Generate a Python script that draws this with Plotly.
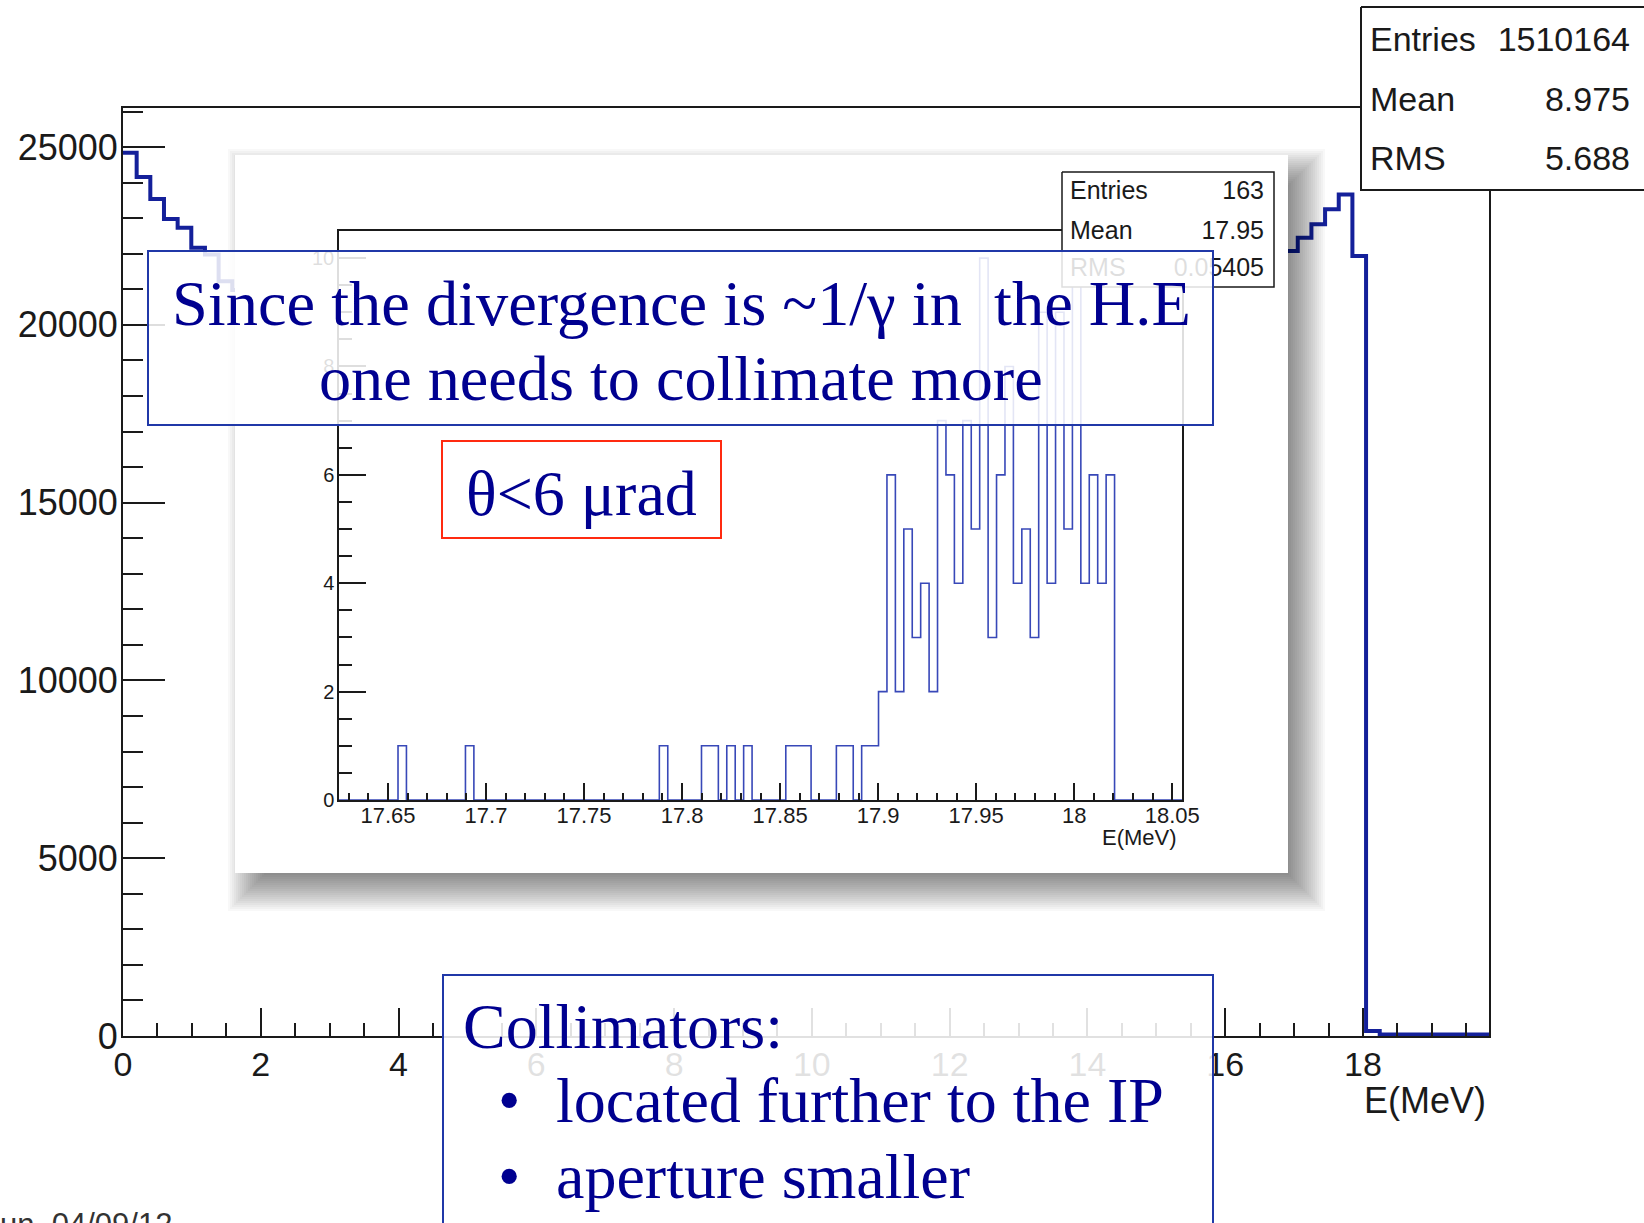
import numpy as np
import plotly.graph_objects as go

W, H = 1644, 1223

# ---------------------------------------------------------------- data
# Full photon spectrum: 100 bins over [0, 19.83] MeV
E_MAX = 19.83
N_BINS = 100
main_counts = [
    24840, 24160, 23540, 22980, 22730, 22170, 21980, 21230,
    20980, 20590, 20120, 19750, 19290, 18950, 18520, 18210, 17790, 17500,
    17120, 16850, 16490, 16240, 15900, 15680, 15370, 15160, 14880, 14700,
    14430, 14280, 14040, 13900, 13690, 13570, 13390, 13290, 13130, 13060,
    12920, 12870, 12760, 12730, 12640, 12640, 12570, 12600, 12550, 12610,
    12580, 12680, 12680, 12810, 12830, 12990, 13040, 13240, 13300, 13520,
    13610, 13870, 13980, 14270, 14400, 14720, 14870, 15220, 15400, 15790,
    15980, 16400, 16610, 17060, 17280, 17760, 17990, 18500, 18740, 19290,
    19540, 20120, 20380, 20990, 21250, 21600, 21850,
    22080, 22450, 22830, 23250, 23670, 21940,
    140, 40, 40, 40, 40, 40, 40, 40, 40,
]

# Spectrum after the angular cut: 100 bins over [17.625, 18.055] MeV
ZOOM_LO, ZOOM_HI = 17.625, 18.055
zoom_counts = [
    0, 0, 0, 0, 0, 0, 0, 1, 0, 0,
    0, 0, 0, 0, 0, 1, 0, 0, 0, 0,
    0, 0, 0, 0, 0, 0, 0, 0, 0, 0,
    0, 0, 0, 0, 0, 0, 0, 0, 1, 0,
    0, 0, 0, 1, 1, 0, 1, 0, 1, 0,
    0, 0, 0, 1, 1, 1, 0, 0, 0, 1,
    1, 0, 1, 1, 2, 6, 2, 5, 3, 4,
    2, 7, 6, 4, 7, 5, 10, 3, 6, 8,
    4, 5, 3, 9, 4, 9, 5, 10, 4, 6,
    4, 6, 0, 0, 0, 0, 0, 0, 0, 0,
]

main_xticks = [0, 2, 4, 6, 8, 10, 12, 14, 16, 18]
main_xticktext = ["0", "2", "4", "6", "8", "10", "12", "14", "16", "18"]
main_yticks = [0, 5000, 10000, 15000, 20000, 25000]
main_yticktext = ["0", "5000", "10000", "15000", "20000", "25000"]

zoom_xticks = [17.65, 17.7, 17.75, 17.8, 17.85, 17.9, 17.95, 18.0, 18.05]
zoom_xticktext = ["17.65", "17.7", "17.75", "17.8", "17.85", "17.9", "17.95", "18", "18.05"]
zoom_yticks = [0, 2, 4, 6, 8, 10]
zoom_yticktext = ["0", "2", "4", "6", "8", "10"]

main_stats = [("Entries", "1510164"), ("Mean", "8.975"), ("RMS", "5.688")]
zoom_stats = [("Entries", "163"), ("Mean", "17.95"), ("RMS", "0.05405")]

# ---------------------------------------------------------------- style
SANS = "Liberation Sans, Arial, Helvetica, sans-serif"
SERIF = "Liberation Serif, Times New Roman, serif"
INK = "#1a1a1a"
MAIN_BLUE = "#14209a"
ZOOM_BLUE = "#3848b8"
TEXT_BLUE = "#000090"
BOX_BLUE = "#2038a8"
BOX_RED = "#ff2a10"


def px(x):
    return x / W


def py(y):
    return 1 - y / H


fig = go.Figure()

# main histogram (subplot xy)
main_edges = np.linspace(0.0, E_MAX, N_BINS + 1)
fig.add_trace(go.Scatter(
    x=main_edges, y=main_counts + [main_counts[-1]],
    mode="lines", line=dict(shape="hv", color=MAIN_BLUE, width=4),
    xaxis="x", yaxis="y", hoverinfo="skip", showlegend=False))

# inset canvas with its drop shadow (pixel-space subplot x2y2)
PANEL = (235, 155, 1288, 873)
SH_DX, SH_DY = 15, 16
for e in range(-20, 23, 2):
    x0, y0 = PANEL[0] + SH_DX - e, PANEL[1] + SH_DY - e
    x1, y1 = PANEL[2] + SH_DX + e, PANEL[3] + SH_DY + e
    fig.add_trace(go.Scatter(
        x=[x0, x1, x1, x0, x0], y=[y0, y0, y1, y1, y0],
        fill="toself", fillcolor="rgba(0,0,0,0.026)", mode="lines",
        line=dict(width=0), xaxis="x2", yaxis="y2",
        hoverinfo="skip", showlegend=False))
fig.add_trace(go.Scatter(
    x=[PANEL[0], PANEL[2], PANEL[2], PANEL[0], PANEL[0]],
    y=[PANEL[1], PANEL[1], PANEL[3], PANEL[3], PANEL[1]],
    fill="toself", fillcolor="white", mode="lines", line=dict(width=0),
    xaxis="x2", yaxis="y2", hoverinfo="skip", showlegend=False))

# zoomed histogram (subplot x3y3)
zoom_edges = np.linspace(ZOOM_LO, ZOOM_HI, len(zoom_counts) + 1)
fig.add_trace(go.Scatter(
    x=zoom_edges, y=zoom_counts + [zoom_counts[-1]],
    mode="lines", line=dict(shape="hv", color=ZOOM_BLUE, width=1.6),
    xaxis="x3", yaxis="y3", hoverinfo="skip", showlegend=False))


# statistics boxes (pixel-space subplot x4y4)
def stat_box(x0, y0, x1, y1, width):
    fig.add_trace(go.Scatter(
        x=[x0, x1, x1, x0, x0], y=[y0, y0, y1, y1, y0],
        fill="toself", fillcolor="white", mode="lines",
        line=dict(color=INK, width=width), xaxis="x4", yaxis="y4",
        hoverinfo="skip", showlegend=False))


def stat_text(rows, x_label, x_value, ys, size):
    fig.add_trace(go.Scatter(
        x=[x_label] * len(rows), y=ys, text=[r[0] for r in rows],
        mode="text", textposition="middle right",
        textfont=dict(family=SANS, size=size, color=INK),
        xaxis="x4", yaxis="y4", hoverinfo="skip", showlegend=False))
    fig.add_trace(go.Scatter(
        x=[x_value] * len(rows), y=ys, text=[r[1] for r in rows],
        mode="text", textposition="middle left",
        textfont=dict(family=SANS, size=size, color=INK),
        xaxis="x4", yaxis="y4", hoverinfo="skip", showlegend=False))


stat_box(1361, 7, 1720, 190, 2)
stat_text(main_stats, 1370, 1630, [42, 102, 161], 34)
stat_box(1062, 172, 1274, 287, 1.5)
stat_text(zoom_stats, 1070, 1264, [193, 233, 270], 25)


def axis_common(**kw):
    d = dict(showgrid=False, zeroline=False, showline=True, mirror=True,
             linecolor=INK, ticks="inside", tickcolor=INK, tickmode="array",
             fixedrange=True, automargin=False)
    d.update(kw)
    return d


def pixel_axis(rng, anchor):
    return dict(domain=[0, 1], range=rng, visible=False, anchor=anchor,
                fixedrange=True, automargin=False)


layout_axes = dict(
    xaxis=axis_common(
        domain=[px(123), px(1489)], range=[0, E_MAX], anchor="y",
        linewidth=2, tickwidth=2, ticklen=28,
        tickvals=main_xticks, ticktext=main_xticktext,
        minor=dict(ticks="inside", dtick=0.5, tick0=0, ticklen=13,
                   tickwidth=2, tickcolor=INK),
        tickfont=dict(family=SANS, size=34, color=INK), ticklabelstandoff=-3),
    yaxis=axis_common(
        domain=[py(1036), py(108)], range=[0, 26100], anchor="x",
        linewidth=2, tickwidth=2, ticklen=42,
        tickvals=main_yticks, ticktext=main_yticktext,
        minor=dict(ticks="inside", dtick=1000, tick0=0, ticklen=20,
                   tickwidth=2, tickcolor=INK),
        tickfont=dict(family=SANS, size=36, color=INK), ticklabelstandoff=-4),
    xaxis2=pixel_axis([0, W], "y2"),
    yaxis2=pixel_axis([H, 0], "x2"),
    xaxis3=axis_common(
        domain=[px(339), px(1182)], range=[ZOOM_LO, ZOOM_HI], anchor="y3",
        linewidth=1.5, tickwidth=1.5, ticklen=17,
        tickvals=zoom_xticks, ticktext=zoom_xticktext,
        minor=dict(ticks="inside", dtick=0.01, tick0=17.65, ticklen=7,
                   tickwidth=1.5, tickcolor=INK),
        tickfont=dict(family=SANS, size=22, color=INK), ticklabelstandoff=-5),
    yaxis3=axis_common(
        domain=[py(800), py(231)], range=[0, 10.5], anchor="x3",
        linewidth=1.5, tickwidth=1.5, ticklen=27,
        tickvals=zoom_yticks, ticktext=zoom_yticktext,
        minor=dict(ticks="inside", dtick=0.5, tick0=0, ticklen=13,
                   tickwidth=1.5, tickcolor=INK),
        tickfont=dict(family=SANS, size=20, color=INK), ticklabelstandoff=-1),
    xaxis4=pixel_axis([0, W], "y4"),
    yaxis4=pixel_axis([H, 0], "x4"),
)

# text boxes drawn over the plots
shapes = [
    dict(type="rect", xref="paper", yref="paper",
         x0=px(148), x1=px(1213), y0=py(425), y1=py(251),
         line=dict(color=BOX_BLUE, width=2),
         fillcolor="rgba(255,255,255,0.86)", layer="above"),
    dict(type="rect", xref="paper", yref="paper",
         x0=px(442), x1=px(721), y0=py(538), y1=py(441),
         line=dict(color=BOX_RED, width=2),
         fillcolor="rgba(0,0,0,0)", layer="above"),
    dict(type="rect", xref="paper", yref="paper",
         x0=px(443), x1=px(1213), y0=py(1260), y1=py(975),
         line=dict(color=BOX_BLUE, width=2),
         fillcolor="rgba(255,255,255,0.87)", layer="above"),
]


def note(text, x, y, size, family=SERIF, color=TEXT_BLUE,
         xanchor="left", yanchor="middle"):
    return dict(text=text, x=px(x), y=py(y), xref="paper", yref="paper",
                xanchor=xanchor, yanchor=yanchor, showarrow=False,
                font=dict(family=family, size=size, color=color))


annotations = [
    note("Since the divergence is ~1/\u03b3 in \u00a0the H.E", 681, 303, 64.4,
         xanchor="center"),
    note("one needs to collimate more", 681, 378, 64.2, xanchor="center"),
    note("\u03b8<6 \u03bcrad", 581, 493, 64, xanchor="center"),
    note("Collimators:", 461, 1026, 64),
    note("\u2022", 496, 1100, 64),
    note("located further to the IP", 554, 1100, 64),
    note("\u2022", 496, 1176, 64),
    note("aperture smaller", 554, 1176, 64),
    note("E(MeV)", 1488, 1100, 36, family=SANS, color=INK, xanchor="right"),
    note("E(MeV)", 1179, 837, 22, family=SANS, color=INK, xanchor="right"),
    note("un \u00a004/09/12", -2, 1205, 31, family=SANS, color="#333333",
         yanchor="top"),
]

fig.update_layout(
    width=W, height=H, autosize=False,
    margin=dict(l=0, r=0, t=0, b=0, pad=0, autoexpand=False),
    paper_bgcolor="white", plot_bgcolor="rgba(0,0,0,0)",
    showlegend=False, shapes=shapes, annotations=annotations,
    **layout_axes,
)

fig.write_html("out.html", config=dict(displayModeBar=False))
